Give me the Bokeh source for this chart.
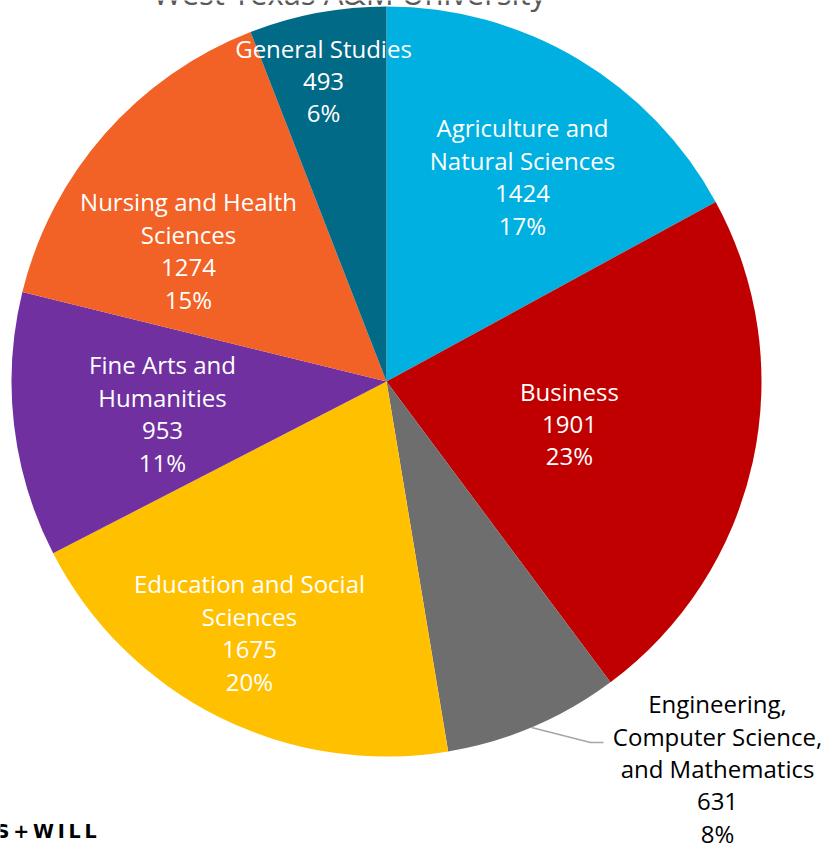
import math
from bokeh.plotting import figure
from bokeh.models import Range1d, ColumnDataSource
from bokeh.core.properties import value
from bokeh.embed import file_html
from bokeh.resources import INLINE

# ---- data ----
categories = [
    "Agriculture and\nNatural Sciences",
    "Business",
    "Engineering,\nComputer Science,\nand Mathematics",
    "Education and Social\nSciences",
    "Fine Arts and\nHumanities",
    "Nursing and Health\nSciences",
    "General Studies",
]
counts = [1424, 1901, 631, 1675, 953, 1274, 493]
colors = ["#00B0E0", "#C00000", "#6E6E6E", "#FFC000", "#7030A0", "#F26125", "#006A87"]
title_text = "West Texas A&M University"
logo_text = "S\u2009+\u2009W\u2009I\u2009L\u2009L"

# ---- layout (pixel coords of the 829x844 picture) ----
FW, FH = 829, 844

def Y(py):
    return FH - py

cx, cy, R = 386, 381, 375
label_px = [(522, 176), (569, 423), (717, 768), (249, 632), (162, 413), (188, 250), (323, 80)]
label_colors = ["white", "white", "black", "white", "white", "white", "white"]

total = sum(counts)
starts, ends, labels = [], [], []
cum = 0.0
for c, n in zip(categories, counts):
    a0 = math.pi / 2 - 2 * math.pi * cum / total
    cum += n
    a1 = math.pi / 2 - 2 * math.pi * cum / total
    starts.append(a0)
    ends.append(a1)
    labels.append(f"{c}\n{n}\n{round(100 * n / total)}%")

p = figure(width=FW, height=FH, output_backend="svg", toolbar_location=None,
           x_range=Range1d(0, FW), y_range=Range1d(0, FH),
           min_border=0, outline_line_color=None)
p.axis.visible = False
p.grid.visible = False
p.background_fill_color = "white"

src = ColumnDataSource(dict(start=starts, end=ends, color=colors))
p.wedge(x=cx, y=Y(cy), radius=R, start_angle="start", end_angle="end",
        direction="clock", fill_color="color", line_color=None, source=src)

# leader line for the small slice
p.line(x=[531, 590, 603], y=[Y(727), Y(742), Y(742)], line_color="#A6A6A6", line_width=1.5)

lsrc = ColumnDataSource(dict(x=[q[0] for q in label_px], y=[Y(q[1]) for q in label_px],
                             text=labels, color=label_colors))
p.text(x="x", y="y", text="text", text_color="color", source=lsrc,
       text_align="center", text_baseline="middle", text_font=value("Open Sans"),
       text_font_size="24px", text_line_height=0.98)

# title (largely cut off at top of picture)
p.text(x=[349], y=[Y(-8)], text=[title_text], text_align="center", text_baseline="alphabetic",
       text_color="#595959", text_font=value("Open Sans"), text_font_size="31px")

# logo fragment
p.text(x=[96], y=[Y(830)], text=[logo_text], text_align="right", text_baseline="middle",
       text_color="black", text_font=value("DejaVu Sans"), text_font_style="bold", text_font_size="19px")

open("out.html", "w").write(file_html(p, INLINE))
